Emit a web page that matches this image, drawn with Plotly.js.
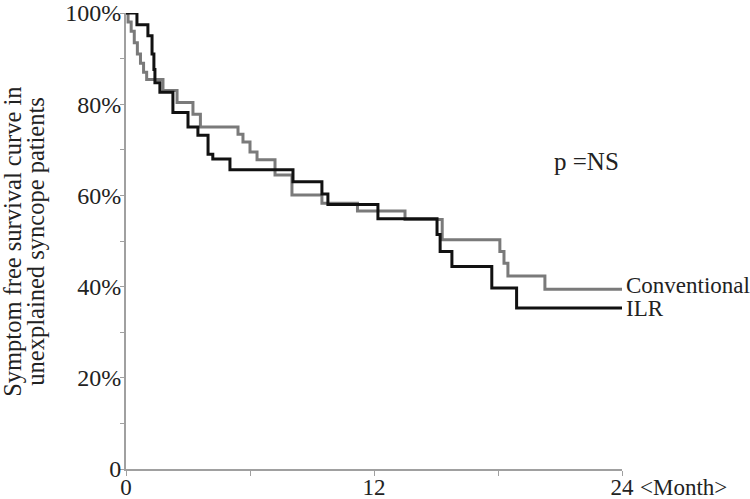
<!DOCTYPE html>
<html>
<head>
<meta charset="utf-8">
<script src="https://cdn.plot.ly/plotly-3.0.1.min.js"></script>
<style>
  body { margin: 0; background: #fff; }
  #chart { width: 750px; height: 499px; }
</style>
</head>
<body>
<div id="chart"></div>
<script>
// Kaplan-Meier style step curves, months vs symptom free %
var ilrMonths = [0, 0.53, 1.06, 1.26, 1.35, 1.40, 1.64, 2.27, 3.0, 3.48, 3.97, 4.2, 5.03, 8.08, 9.48, 9.77, 12.19, 15.05, 15.2, 15.77, 17.7, 18.9, 24];
var ilrSurvival = [100, 97.4, 95.0, 91, 87.6, 84.7, 82.6, 78.2, 75, 73.2, 69, 68, 65.6, 63, 60.3, 58, 54.9, 51.4, 47.7, 44.4, 39.7, 35.3, 35.3];

var convMonths = [0, 0.1, 0.25, 0.4, 0.55, 0.7, 0.85, 1.0, 1.79, 2.47, 3.24, 3.6, 5.42, 5.66, 6.0, 6.34, 7.21, 8.03, 9.48, 11.2, 13.5, 15.3, 18.09, 18.29, 18.48, 20.27, 24];
var convSurvival = [100, 98, 96, 93.5, 91, 89, 87, 85.4, 83, 80.4, 77.8, 75, 73.4, 71.7, 69.5, 67.8, 64.5, 60.1, 58.3, 56.6, 54.7, 50.3, 47.7, 45.1, 42.3, 39.4, 39.4];

var yTicks = [0, 10, 20, 30, 40, 50, 60, 70, 80, 90, 100];
var yTickText = ["0", "", "20%", "", "40%", "", "60%", "", "80%", "", "100%"];
var xTicks = [0, 6, 12, 18, 24];
var xTickText = ["0", "", "12", "", "24"];

var serif = "Liberation Serif, Times New Roman, serif";

var conventional = {
    x: convMonths,
    y: convSurvival,
    mode: "lines",
    type: "scatter",
    name: "Conventional",
    line: {shape: "hv", color: "#7a7a7a", width: 3}
};

var ilr = {
    x: ilrMonths,
    y: ilrSurvival,
    mode: "lines",
    type: "scatter",
    name: "ILR",
    line: {shape: "hv", color: "#111111", width: 3}
};

var layout = {
    width: 750,
    height: 499,
    margin: {l: 126, r: 128, t: 13, b: 30},
    showlegend: false,
    paper_bgcolor: "#fff",
    plot_bgcolor: "#fff",
    font: {family: serif, size: 23, color: "#222"},
    xaxis: {
        range: [0, 24],
        showgrid: false,
        zeroline: false,
        showline: true,
        linecolor: "#a0a0a0",
        linewidth: 2,
        ticks: "outside",
        ticklen: 5,
        tickcolor: "#a0a0a0",
        tickvals: xTicks,
        ticktext: xTickText,
        tickfont: {size: 23},
        ticklabelstandoff: -9,
        ticklabeloverflow: "allow"
    },
    yaxis: {
        range: [0, 100],
        showgrid: false,
        zeroline: false,
        showline: true,
        linecolor: "#a0a0a0",
        linewidth: 2,
        ticks: "outside",
        ticklen: 4,
        tickcolor: "#a0a0a0",
        tickvals: yTicks,
        ticktext: yTickText,
        tickfont: {size: 24},
        ticklabelstandoff: -6,
        ticklabeloverflow: "allow"
    },
    annotations: [
        {x: 24, y: 40.2, xref: "x", yref: "y", text: "Conventional", showarrow: false, xanchor: "left", yanchor: "middle", xshift: 2},
        {x: 24, y: 35.3, xref: "x", yref: "y", text: "ILR", showarrow: false, xanchor: "left", yanchor: "middle", xshift: 2},
        {x: 22.3, y: 67.5, xref: "x", yref: "y", text: "p =NS", font: {size: 25}, showarrow: false, xanchor: "center", yanchor: "middle"},
        {x: 1, y: 0, xref: "paper", yref: "paper", text: "&lt;Month&gt;", showarrow: false, xanchor: "left", yanchor: "top", xshift: 16, yshift: -4},
        {x: -0.228, y: 49.8, xref: "paper", yref: "y", text: "Symptom free survival curve in", font: {size: 24.5}, showarrow: false, textangle: -90, xanchor: "center", yanchor: "middle"},
        {x: -0.182, y: 49.8, xref: "paper", yref: "y", text: "unexplained syncope patients", font: {size: 24.5}, showarrow: false, textangle: -90, xanchor: "center", yanchor: "middle"}
    ]
};

Plotly.newPlot("chart", [conventional, ilr], layout, {staticPlot: true});
</script>
</body>
</html>
